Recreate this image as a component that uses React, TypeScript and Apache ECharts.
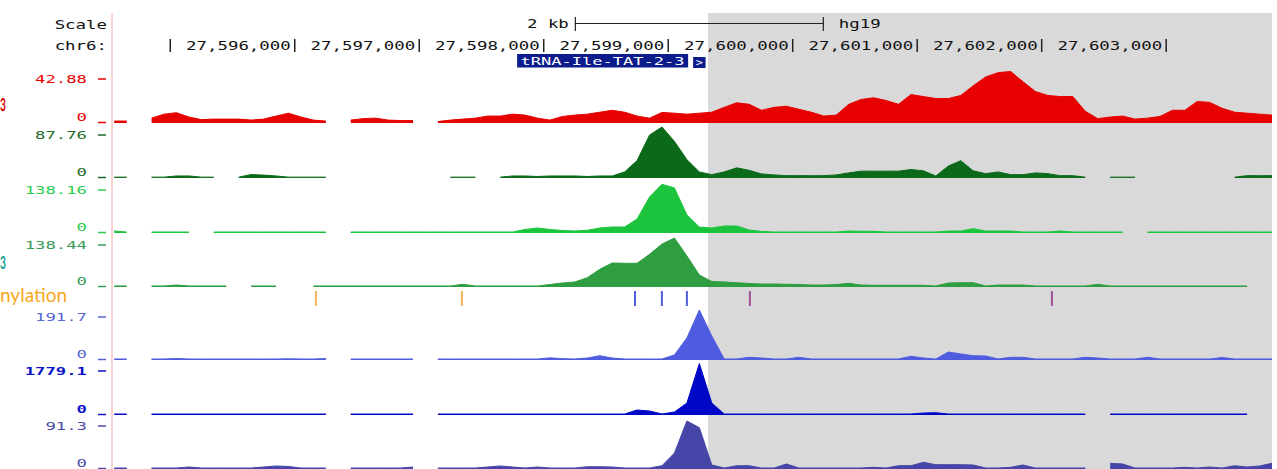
import React, { useEffect, useRef } from "react";
import * as echarts from "echarts";

// ---------- genomic window ----------
const X_MIN = 27594532;
const X_MAX = 27603850;
const BIN_START = 27594550;
const BIN_SIZE = 100;
const bins: number[] = Array.from({ length: 94 }, (_, i) => BIN_START + i * BIN_SIZE);

// ---------- header ----------
const rulerTicks = [27595000, 27596000, 27597000, 27598000, 27599000, 27600000, 27601000, 27602000, 27603000];
const rulerLabels = ["", "27,596,000", "27,597,000", "27,598,000", "27,599,000", "27,600,000", "27,601,000", "27,602,000", "27,603,000"];
const scaleBarRange = [27598250, 27600250];
const scaleBarLabel = "2 kb";
const assemblyLabel = "hg19";
const highlightRange = [27599320, 27603850];
const geneRange = [27599200, 27599300];
const geneName = "tRNA-Ile-TAT-2-3";

// ---------- side labels (only their visible ends show in the reference) ----------
const sideLabels = ["3", "3", "nylation"];

// ---------- methylation sites ----------
const methOrange = [27596170, 27597343];
const methBlue = [27598733, 27598949, 27599150];
const methPurple = [27599656, 27602082];

// ---------- signal tracks (one value per 100 bp bin, null = no data) ----------
const N = null;
const redSignal = [
  1.6, 1.6, N, 4.0, 7.3, 8.5, 4.9, 2.8, 3.2, 3.2,
  3.2, 2.4, 3.2, 5.7, 8.1, 4.9, 2.4, 1.6, N, 2.4,
  3.6, 4.0, 2.4, 2.0, 2.0, N, 1.2, 2.4, 3.2, 4.0,
  5.7, 5.7, 7.3, 6.5, 4.0, 2.4, 5.4, 6.5, 7.3, 8.9,
  10.5, 8.9, 5.7, 4.0, 8.7, 8.1, 7.3, 8.1, 8.9, 12.9,
  16.7, 15.4, 10.5, 12.9, 13.8, 11.3, 8.9, 5.7, 6.5, 15.4,
  19.4, 20.8, 18.6, 15.4, 23.5, 21.8, 20.2, 20.2, 22.7, 30.7,
  38.0, 41.5, 42.5, 34.0, 25.9, 22.7, 21.8, 21.8, 9.7, 3.6,
  4.9, 5.7, 3.2, 4.0, 5.4, 10.5, 10.5, 17.8, 17.0, 12.1,
  8.9, 8.1, 7.3, 6.5,
];
const darkGreenSignal = [
  1.5, 1.5, N, 1.5, 1.5, 3.5, 3.5, 1.5, 1.5, N,
  1.5, 6, 5, 3.5, 1.5, 1.5, 1.5, 1.5, N, N,
  N, N, N, N, N, N, N, 1.5, 1.5, 1.5,
  N, 1.5, 3.5, 3.5, 2.6, 3.5, 3.5, 3.5, 2.6, 3.5,
  3.5, 10.5, 30, 74, 87.76, 63, 31.6, 10.5, 5.8, 10.5,
  17.5, 13.2, 7, 5.3, 4, 4, 4, 4, 5.3, 8.8,
  11.8, 11.8, 11.8, 11.8, 14.6, 12.3, 3.5, 20.5, 29.8, 12.3,
  7.5, 10.5, 5.8, 5.8, 8.8, 7.5, 4, 4, 1.5, N,
  1.5, 1.5, 1.5, N, N, N, N, N, N, N,
  1.5, 4, 4, 4,
];
const lightGreenSignal = [
  5.4, 2.7, N, 2.7, 2.7, 2.7, 2.7, N, 2.7, 2.7,
  2.7, 2.7, 2.7, 2.7, 2.7, 2.7, 2.7, 2.7, N, 2.7,
  2.7, 2.7, 2.7, 2.7, 2.7, 2.7, 2.7, 2.7, 2.7, 2.7,
  2.7, 2.7, 2.7, 9.5, 13.6, 9.5, 6.8, 5.4, 7.3, 13.6,
  16.3, 16.3, 38, 97.6, 132, 122, 48.8, 16.3, 13.6, 19,
  19, 8.1, 4.1, 2.7, 2.7, 2.7, 2.7, 2.7, 2.7, 5.4,
  4.6, 4.6, 2.7, 2.7, 2.7, 2.7, 2.7, 5.4, 5.4, 11.7,
  5.4, 5.4, 5.4, 2.7, 2.7, 2.7, 5.4, 2.7, 2.7, 2.7,
  2.7, 2.7, N, 2.7, 2.7, 2.7, 2.7, 2.7, 2.7, 2.7,
  2.7, 2.7, 2.7, 2.7,
];
const mediumGreenSignal = [
  2.8, 2.8, N, 2.8, 2.8, 5.5, 2.8, 2.8, 2.8, 2.8,
  N, 2.8, 2.8, 2.8, N, N, 2.8, 2.8, 2.8, 2.8,
  2.8, 2.8, 2.8, 2.8, 2.8, 2.8, 2.8, 2.8, 7.5, 2.8,
  2.8, 2.8, 2.8, 2.8, 2.8, 6.9, 11, 13.9, 25.8, 49,
  66.5, 65.6, 65.6, 90.5, 119, 135.7, 85.9, 33.2, 15.2, 13.9,
  11.9, 9.7, 8.3, 8.3, 7.5, 6.9, 5.5, 5.5, 6.9, 10.2,
  5.5, 4.7, 4.7, 4.7, 4.7, 4.7, 2.8, 11, 11.9, 11.9,
  2.8, 5.5, 5.5, 5.5, 2.8, 2.8, 2.8, 2.8, 2.8, 7.5,
  2.8, 2.8, 2.8, 2.8, 2.8, 2.8, 2.8, 2.8, 2.8, 2.8,
  2.8, 2.8, N, 2.8,
];
const blueSignal = [
  3.8, 3.8, N, 3.8, 3.8, 5.6, 3.8, 3.8, 3.8, 3.8,
  3.8, 3.8, 3.8, 3.8, 4.5, 3.8, 3.8, 5.6, N, 3.8,
  3.8, 3.8, 3.8, 3.8, 3.8, N, 3.8, 3.8, 3.8, 3.8,
  3.8, 3.8, 3.8, 3.8, 3.8, 8, 5, 3.8, 7.5, 16.2,
  7.5, 3.8, 3.8, 3.8, 3.8, 19, 83, 188, 90, 3.8,
  3.8, 10.2, 7.5, 3.8, 3.8, 10.2, 3.8, 3.8, 3.8, 3.8,
  3.8, 3.8, 3.8, 3.8, 13.9, 7.5, 3.8, 30, 22.6, 16.2,
  15, 3.8, 10.2, 10.2, 3.8, 3.8, 3.8, 3.8, 10.2, 7.5,
  3.8, 3.8, 3.8, 10.2, 3.8, 3.8, 3.8, 3.8, 3.8, 9.4,
  3.8, 3.8, 3.8, 3.8,
];
const darkBlueSignal = [
  34, 34, N, 34, 34, 34, 34, 34, 34, 34,
  34, 34, 34, 34, 34, 34, 34, 34, N, 34,
  34, 34, 34, 34, 34, N, 34, 34, 34, 34,
  34, 34, 34, 34, 34, 34, 34, 34, 34, 34,
  34, 34, 171, 137, 34, 103, 410, 1760, 410, 34,
  34, 34, 34, 34, 34, 34, 34, 34, 34, 34,
  34, 34, 34, 34, 34, 68, 79, 34, 34, 34,
  34, 34, 34, 34, 34, 34, 34, 34, 34, N,
  34, 34, 34, 34, 34, 34, 34, 34, 34, 34,
  34, 34, N, 34,
];
const slateSignal = [
  1.8, 1.8, N, 1.8, 1.8, 1.8, 3.6, 1.8, 1.8, 1.8,
  1.8, 1.8, 3.6, 5.4, 4.5, 1.8, 1.8, 1.8, N, 1.8,
  1.8, 1.8, 1.8, 1.8, 3.6, N, 1.8, 1.8, 1.8, 1.8,
  3.6, 5.4, 3.6, 1.8, 3.6, 1.8, 1.8, 1.8, 4.1, 4.1,
  3.6, 1.8, 1.8, 1.8, 5.9, 28.6, 86, 74, 7.2, 1.8,
  5.9, 5.9, 1.8, 1.8, 9, 1.8, 1.8, 1.8, 1.8, 1.8,
  1.8, 3, 1.8, 5.9, 5.9, 12, 7.7, 7.7, 7.7, 7.2,
  1.8, 1.8, 3, 7.2, 1.8, 1.8, 1.8, 1.8, 1.8, N,
  10.2, 9, 1.8, 1.8, 1.8, 1.8, 3, 1.8, 3.6, 1.8,
  5.9, 3.6, 5.4, 10.2,
];

const trackMax = [42.88, 87.76, 138.16, 138.44, 191.7, 1779.1, 91.3];
const trackMaxLabels = ["42.88", "87.76", "138.16", "138.44", "191.7", "1779.1", "91.3"];
const trackSignals = [redSignal, darkGreenSignal, lightGreenSignal, mediumGreenSignal, blueSignal, darkBlueSignal, slateSignal];

// ---------- styles / layout ----------
const trackColors = ["#e60000", "#0b6a1a", "#1cc43e", "#2e9e40", "#4f5ce0", "#0008c8", "#4646a8"];
const labelColors = ["#e80000", "#1f6b2a", "#2ecc50", "#3a9a58", "#5566d8", "#0a14c8", "#4a4aa8"];
const trackTops = [71, 127, 182, 237, 309, 363, 418];
const trackHeights = [52, 51, 51, 50, 51, 52, 51];
const GRID_LEFT = 112;
const GRID_RIGHT = 5;
const MONO = '"DejaVu Sans Mono", "Liberation Mono", monospace';

export default function App() {
  const ref = useRef<HTMLDivElement>(null);

  useEffect(() => {
    if (!ref.current) return;
    const chart = echarts.init(ref.current, undefined, { renderer: "svg" });

    const grids: any[] = [];
    const xAxes: any[] = [];
    const yAxes: any[] = [];
    const series: any[] = [];

    trackSignals.forEach((vals, k) => {
      grids.push({ left: GRID_LEFT, right: GRID_RIGHT, top: trackTops[k], height: trackHeights[k], containLabel: false });
      xAxes.push({ type: "value", gridIndex: k, min: X_MIN, max: X_MAX, show: false });
      yAxes.push({ type: "value", gridIndex: k, min: 0, max: trackMax[k], show: false });
      series.push({
        type: "line",
        xAxisIndex: k,
        yAxisIndex: k,
        data: bins.map((b, i) => [b, vals[i] == null ? "-" : vals[i]]),
        showSymbol: false,
        symbol: "none",
        connectNulls: false,
        silent: true,
        z: 3,
        lineStyle: { width: 1, color: trackColors[k] },
        areaStyle: { color: trackColors[k], opacity: 1 },
      });
    });

    // methylation grid
    const mg = trackSignals.length;
    grids.push({ left: GRID_LEFT, right: GRID_RIGHT, top: 291, height: 15 });
    xAxes.push({ type: "value", gridIndex: mg, min: X_MIN, max: X_MAX, show: false });
    yAxes.push({ type: "value", gridIndex: mg, min: 0, max: 1, show: false });
    const methSets: [number[], string][] = [
      [methOrange, "#f5a030"],
      [methBlue, "#2434cc"],
      [methPurple, "#8e2c86"],
    ];
    methSets.forEach(([arr, color]) => {
      series.push({
        type: "scatter",
        xAxisIndex: mg,
        yAxisIndex: mg,
        data: arr.map((p) => [p, 0.5]),
        symbol: "rect",
        symbolSize: [2, 15],
        itemStyle: { color },
        silent: true,
        z: 3,
      });
    });

    chart.setOption({
      animation: false,
      backgroundColor: "#ffffff",
      grid: grids,
      xAxis: xAxes,
      yAxis: yAxes,
      series,
    });

    const px = (v: number) => chart.convertToPixel({ xAxisIndex: 0 }, v) as number;
    const py = (k: number, v: number) => chart.convertToPixel({ yAxisIndex: k }, v) as number;

    const txt = (
      x: number,
      y: number,
      text: string,
      fill: string,
      align: string,
      size = 12,
      scaleX = 1.45,
      weight = "normal",
      family = MONO
    ) => ({
      type: "text",
      x,
      y,
      scaleX,
      z: 50,
      silent: true,
      style: {
        text,
        fill,
        font: `${weight} ${size}px ${family}`,
        align,
        verticalAlign: "middle",
        textAlign: align,
        textVerticalAlign: "middle",
      },
    });
    const line = (x1: number, y1: number, x2: number, y2: number, stroke: string, lineWidth = 1) => ({
      type: "line",
      z: 50,
      silent: true,
      shape: { x1, y1, x2, y2 },
      style: { stroke, lineWidth },
    });

    const g: any[] = [];
    // highlight region
    const h0 = px(highlightRange[0]);
    const h1 = px(highlightRange[1]);
    g.push({ type: "rect", z: 0, silent: true, shape: { x: h0, y: 13, width: h1 - h0, height: 469 - 13 }, style: { fill: "#d9d9d9" } });
    // left border
    const lx = px(X_MIN);
    g.push({ type: "line", z: 1, silent: true, shape: { x1: lx, y1: 13, x2: lx, y2: 469 }, style: { stroke: "#f4a4a4", lineWidth: 1 } });

    // header
    g.push(txt(107, 25, "Scale", "#111", "right"));
    g.push(txt(107, 46, "chr6:", "#111", "right"));
    const s0 = px(scaleBarRange[0]);
    const s1 = px(scaleBarRange[1]);
    g.push(txt(s0 - 6, 24, scaleBarLabel, "#111", "right"));
    g.push(line(s0, 23.5, s1, 23.5, "#222", 1));
    g.push(line(s0 + 0.5, 17, s0 + 0.5, 31, "#222", 1.2));
    g.push(line(s1 - 0.5, 17, s1 - 0.5, 31, "#222", 1.2));
    g.push(txt(s1 + 15, 24, assemblyLabel, "#111", "left"));

    rulerTicks.forEach((t, i) => {
      const x = px(t);
      g.push(line(x, 39, x, 52, "#222", 1.5));
      if (rulerLabels[i]) g.push(txt(x - 4, 46, rulerLabels[i], "#111", "right"));
    });

    // gene
    const g0 = px(geneRange[0]);
    const g1 = px(geneRange[1]);
    g.push({ type: "rect", z: 40, silent: true, shape: { x: g0 - 176, y: 54, width: 171, height: 13.5 }, style: { fill: "#0c1c8c" } });
    g.push(txt(g0 - 90.5, 61, geneName, "#ffffff", "center", 11, 1.55));
    g.push({ type: "rect", z: 40, silent: true, shape: { x: g0, y: 57, width: g1 - g0, height: 11 }, style: { fill: "#0c1c8c" } });
    g.push(txt((g0 + g1) / 2, 62.5, ">", "#ffffff", "center", 10, 1.2));

    // track y labels
    trackMax.forEach((m, k) => {
      const top = py(k, m) + 8;
      const base = py(k, 0);
      const c = labelColors[k];
      const w = k === 5 ? "bold" : "normal";
      g.push(txt(87, top, trackMaxLabels[k], c, "right", 11, 1.57, w));
      g.push(line(98, top, 106, top, c, 1.5));
      g.push(txt(87, base - 6, "0", c, "right", 11, 1.57, w));
      g.push(line(98, base - 0.5, 106, base - 0.5, c, 1.5));
    });

    // side labels (visible ends only)
    g.push(txt(0, 104, sideLabels[0], "#e00000", "left", 17, 0.6, "bold", "Lato, sans-serif"));
    g.push(txt(0, 262, sideLabels[1], "#12a090", "left", 17, 0.6, "bold", "Lato, sans-serif"));
    g.push(txt(0, 294, sideLabels[2], "#f6a821", "left", 19, 1, "normal", "Lato, sans-serif"));

    chart.setOption({ graphic: { elements: g } });

    return () => chart.dispose();
  }, []);

  return (
    <div
      ref={ref}
      style={{ position: "fixed", left: 0, top: 0, width: 1277, height: 469, background: "#fff" }}
    />
  );
}
